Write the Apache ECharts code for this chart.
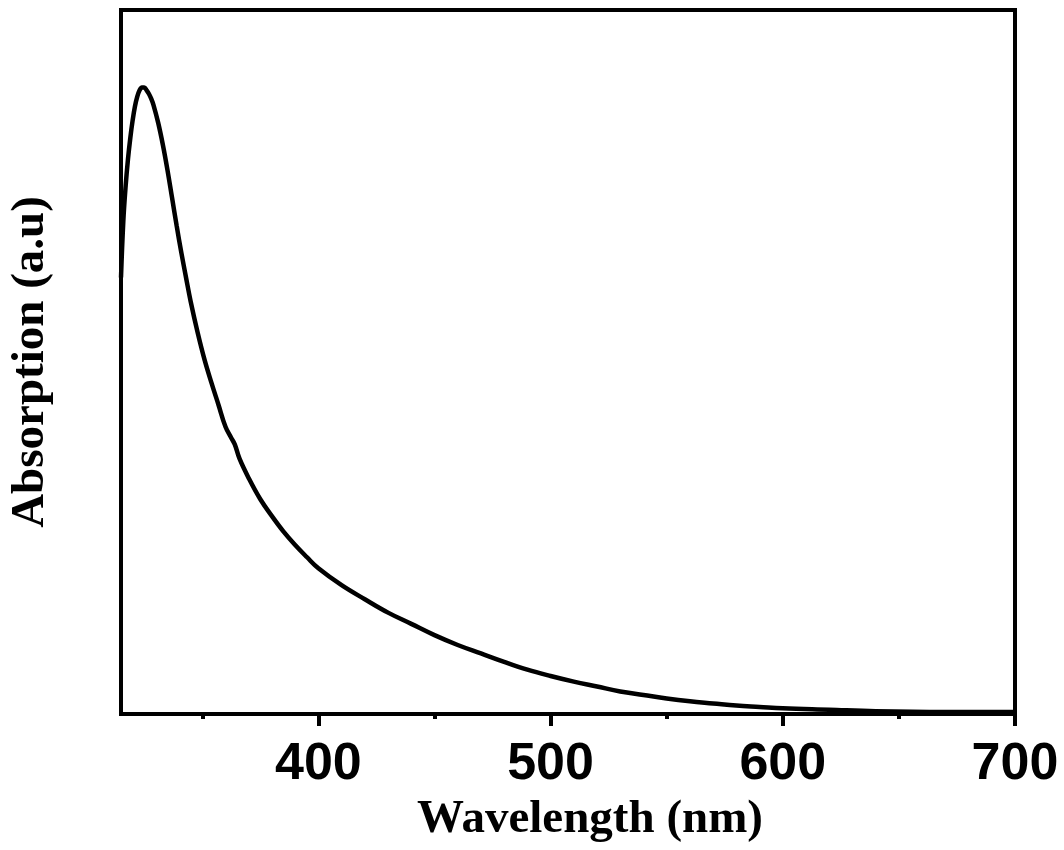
<!DOCTYPE html>
<html>
<head>
<meta charset="utf-8">
<script src="https://cdn.jsdelivr.net/npm/echarts@6/dist/echarts.min.js"></script>
<style>html,body{margin:0;padding:0;background:#fff}#c{width:1064px;height:850px}</style>
</head>
<body>
<div id="c"></div>
<script>
var wavelength = [315, 316, 317, 318, 319, 320, 321, 322, 323, 324, 325, 326, 327, 328, 329, 331, 333, 335, 337, 339, 341, 343, 345, 348, 351, 354, 357, 360, 362.5, 364, 366, 370, 375, 380, 385, 390, 395, 400, 410, 420, 430, 440, 450, 460, 470, 480, 490, 500, 510, 520, 530, 540, 550, 560, 570, 580, 590, 600, 620, 640, 670, 700];
var absorption = [0.620, 0.700, 0.750, 0.788, 0.818, 0.843, 0.863, 0.877, 0.886, 0.890, 0.890, 0.886, 0.881, 0.874, 0.865, 0.840, 0.809, 0.773, 0.733, 0.693, 0.655, 0.620, 0.586, 0.542, 0.503, 0.470, 0.439, 0.408, 0.392, 0.383, 0.363, 0.335, 0.305, 0.281, 0.259, 0.240, 0.223, 0.207, 0.183, 0.163, 0.144, 0.128, 0.112, 0.098, 0.086, 0.074, 0.063, 0.054, 0.046, 0.039, 0.032, 0.027, 0.022, 0.018, 0.015, 0.012, 0.010, 0.008, 0.006, 0.004, 0.003, 0.003];
var majorTicks = [400, 500, 600, 700];
var minorTicks = [350, 450, 550, 650];
var xName = 'Wavelength (nm)';
var yName = 'Absorption (a.u)';

var data = wavelength.map(function (w, i) { return [w, absorption[i]]; });
var chart = echarts.init(document.getElementById('c'), null, {renderer: 'canvas'});
chart.setOption({
  animation: false,
  backgroundColor: '#fff',
  grid: {left: 121, right: 49, top: 10, bottom: 136, containLabel: false, outerBoundsMode: 'none', show: true, borderColor: '#000', borderWidth: 4, backgroundColor: 'transparent'},
  xAxis: [{
    type: 'value', min: 315, max: 700, position: 'bottom',
    name: xName, nameLocation: 'middle', nameGap: 76,
    nameTextStyle: {fontFamily: 'Liberation Serif', fontWeight: 'bold', fontSize: 47, color: '#000', padding: [0, 0, 0, 44]},
    axisLine: {show: true, lineStyle: {color: '#000', width: 4}},
    axisTick: {show: true, inside: false, length: 12, lineStyle: {color: '#000', width: 4}, customValues: majorTicks},
    axisLabel: {show: true, customValues: majorTicks, margin: 25, fontFamily: 'Liberation Sans', fontWeight: 'bold', fontSize: 52, color: '#000'},
    splitLine: {show: false}
  }, {
    type: 'value', min: 315, max: 700, position: 'bottom',
    axisLine: {show: false},
    axisTick: {show: true, inside: false, length: 5, lineStyle: {color: '#000', width: 4}, customValues: minorTicks},
    axisLabel: {show: false},
    splitLine: {show: false}
  }],
  yAxis: {
    type: 'value', min: 0, max: 1,
    name: yName, nameLocation: 'middle', nameGap: 67,
    nameTextStyle: {fontFamily: 'Liberation Serif', fontWeight: 'bold', fontSize: 47, color: '#000'},
    axisLine: {show: true, lineStyle: {color: '#000', width: 4}},
    axisTick: {show: false},
    axisLabel: {show: false},
    splitLine: {show: false}
  },
  series: [{
    type: 'line', data: data, xAxisIndex: 0, showSymbol: false, symbol: 'none',
    smooth: 0.4, lineStyle: {color: '#000', width: 4.5}
  }]
});
</script>
</body>
</html>
